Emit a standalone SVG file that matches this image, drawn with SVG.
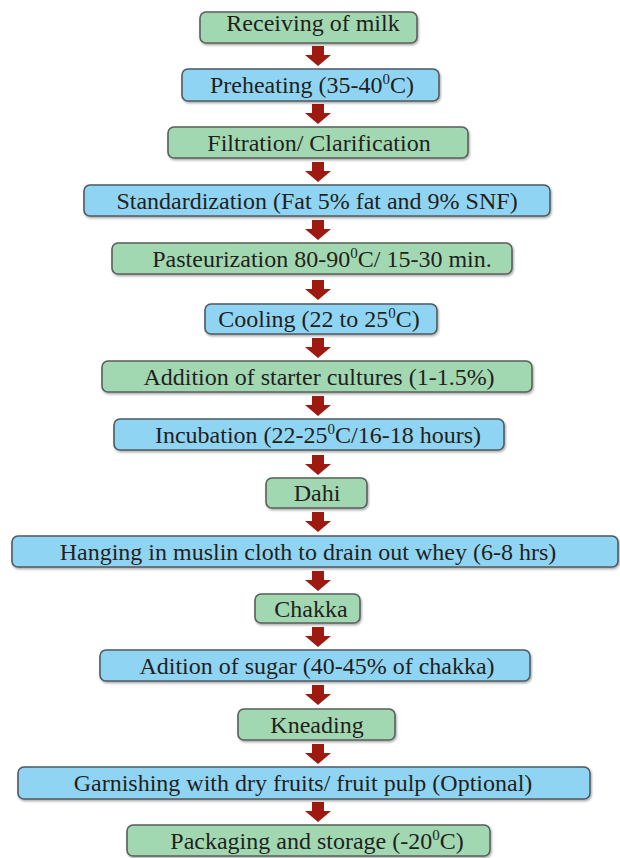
<svg xmlns="http://www.w3.org/2000/svg" width="620" height="858" viewBox="0 0 620 858">
<style>
.g{fill:#a2d8b1;stroke:#5a5f5c;stroke-width:1.6}
.b{fill:#8fd5f3;stroke:#4f5a60;stroke-width:1.6}
</style>
<defs>
<filter id="sh" x="-5%" y="-20%" width="110%" height="150%">
<feDropShadow dx="1" dy="1.5" stdDeviation="1.2" flood-color="#000" flood-opacity="0.35"/>
</filter>
<path id="arr" d="M-6,0 H6 V9 H13 L0,20 L-13,9 H-6 Z" fill="#9e1a10"/>
</defs>
<rect width="620" height="858" fill="#ffffff"/>
<g id="connectors">
<use href="#arr" x="318" y="46"/>
<use href="#arr" x="318" y="104"/>
<use href="#arr" x="318" y="162"/>
<use href="#arr" x="318" y="220"/>
<use href="#arr" x="318" y="280"/>
<use href="#arr" x="318" y="338"/>
<use href="#arr" x="318" y="396"/>
<use href="#arr" x="318" y="455"/>
<use href="#arr" x="318" y="512"/>
<use href="#arr" x="318" y="571"/>
<use href="#arr" x="318" y="627"/>
<use href="#arr" x="318" y="685"/>
<use href="#arr" x="318" y="744"/>
<use href="#arr" x="318" y="802"/>
</g>
<g font-family="Liberation Serif, serif" font-size="24" fill="#231f20" text-anchor="middle">
<g id="n1"><rect class="g" filter="url(#sh)" x="200" y="12" width="217" height="31" rx="6"/><text x="313" y="31">Receiving of milk</text></g>
<g id="n2"><rect class="b" filter="url(#sh)" x="182" y="69" width="257" height="32" rx="6"/><text x="312" y="93">Preheating (35-40<tspan font-size="15" dy="-9">0</tspan><tspan dy="9">C)</tspan></text></g>
<g id="n3"><rect class="g" filter="url(#sh)" x="168" y="127" width="300" height="31" rx="6"/><text x="319" y="151">Filtration/ Clarification</text></g>
<g id="n4"><rect class="b" filter="url(#sh)" x="84" y="185" width="466" height="31" rx="6"/><text x="317" y="209">Standardization (Fat 5% fat and 9% SNF)</text></g>
<g id="n5"><rect class="g" filter="url(#sh)" x="112" y="243" width="400" height="31" rx="6"/><text x="322" y="267">Pasteurization 80-90<tspan font-size="15" dy="-9">0</tspan><tspan dy="9">C/ 15-30 min.</tspan></text></g>
<g id="n6"><rect class="b" filter="url(#sh)" x="205" y="304" width="232" height="30" rx="6"/><text x="319" y="327">Cooling (22 to 25<tspan font-size="15" dy="-9">0</tspan><tspan dy="9">C)</tspan></text></g>
<g id="n7"><rect class="g" filter="url(#sh)" x="102" y="361" width="430" height="31" rx="6"/><text x="319" y="385">Addition of starter cultures (1-1.5%)</text></g>
<g id="n8"><rect class="b" filter="url(#sh)" x="114" y="419" width="390" height="31" rx="6"/><text x="318" y="443">Incubation (22-25<tspan font-size="15" dy="-9">0</tspan><tspan dy="9">C/16-18 hours)</tspan></text></g>
<g id="n9"><rect class="g" filter="url(#sh)" x="266" y="478" width="101" height="30" rx="6"/><text x="317" y="501">Dahi</text></g>
<g id="n10"><rect class="b" filter="url(#sh)" x="12" y="536" width="606" height="31" rx="6"/><text x="308" y="560">Hanging in muslin cloth to drain out whey (6-8 hrs)</text></g>
<g id="n11"><rect class="g" filter="url(#sh)" x="255" y="594" width="105" height="29" rx="6"/><text x="311" y="617">Chakka</text></g>
<g id="n12"><rect class="b" filter="url(#sh)" x="100" y="650" width="430" height="31" rx="6"/><text x="317" y="674">Adition of sugar (40-45% of chakka)</text></g>
<g id="n13"><rect class="g" filter="url(#sh)" x="238" y="709" width="157" height="31" rx="6"/><text x="317" y="733">Kneading</text></g>
<g id="n14"><rect class="b" filter="url(#sh)" x="18" y="767" width="572" height="32" rx="6"/><text x="303" y="791">Garnishing with dry fruits/ fruit pulp (Optional)</text></g>
<g id="n15"><rect class="g" filter="url(#sh)" x="127" y="825" width="363" height="31" rx="6"/><text x="317" y="849">Packaging and storage (-20<tspan font-size="15" dy="-9">0</tspan><tspan dy="9">C)</tspan></text></g>
</g>
</svg>
